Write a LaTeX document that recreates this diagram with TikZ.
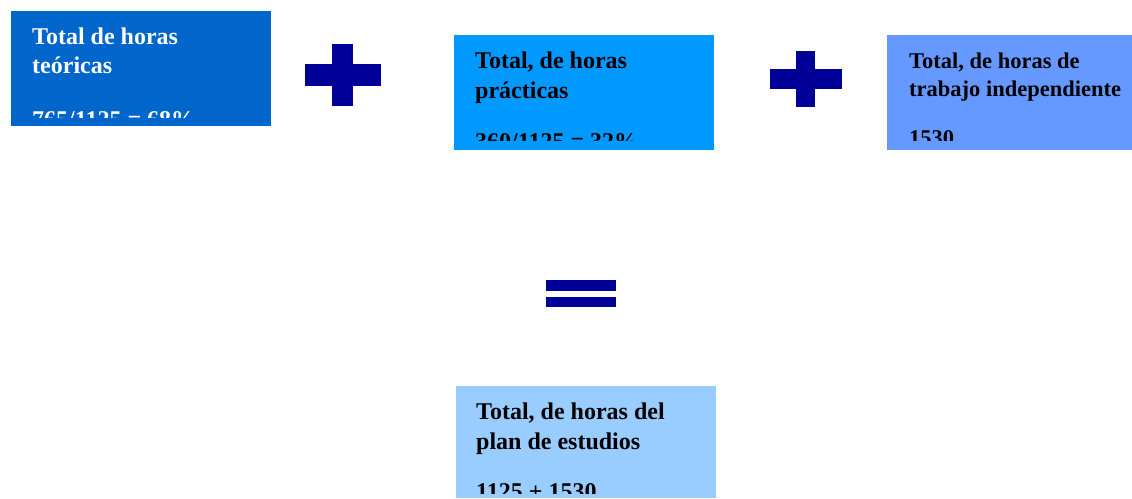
\documentclass[tikz,border=0pt]{standalone}
\usepackage{fontspec}
\setmainfont{Liberation Serif}
\definecolor{cA}{HTML}{0066CC}
\definecolor{cB}{HTML}{0099FF}
\definecolor{cC}{HTML}{6699FF}
\definecolor{cD}{HTML}{99CCFF}
\definecolor{symc}{HTML}{000099}
\begin{document}
\begin{tikzpicture}[x=1pt,y=-1pt,
  box/.style={draw=none, inner sep=0pt, outer sep=0pt, anchor=north west},
  txt/.style={anchor=base west, inner sep=0pt, font=\fontsize{24}{30}\selectfont\bfseries},
  txts/.style={anchor=base west, inner sep=0pt, font=\fontsize{22.5}{28}\selectfont\bfseries},
  symb/.style={fill=symc}]
\useasboundingbox (0,0) rectangle (1132,498);
% box 1
\node[box, fill=cA, minimum width=260pt, minimum height=115pt] (b1) at (11,11) {};
\begin{scope}
\clip (11,11) rectangle (271,117);
\node[txt, text=white] (b1l1) at (32,44) {Total de horas};
\node[txt, text=white] (b1l2) at (32,73) {teóricas};
\node[txt, text=white] (b1l3) at (32,127) {765/1125 = 68\%};
\end{scope}
% plus 1
\fill[symb] (332,44) rectangle (353,106);
\fill[symb] (305,64) rectangle (381,86);
% box 2
\node[box, fill=cB, minimum width=260pt, minimum height=115pt] (b2) at (454,35) {};
\begin{scope}
\clip (454,35) rectangle (714,140);
\node[txt] (b2l1) at (475,68) {Total, de horas};
\node[txt] (b2l2) at (475,98) {prácticas};
\node[txt] (b2l3) at (475,149) {360/1125 = 32\%};
\end{scope}
% plus 2
\fill[symb] (796,51) rectangle (815,107);
\fill[symb] (770,69) rectangle (842,89);
% box 3
\node[box, fill=cC, minimum width=245pt, minimum height=115pt] (b3) at (887,35) {};
\begin{scope}
\clip (887,35) rectangle (1132,140);
\node[txts] (b3l1) at (909,68) {Total, de horas de};
\node[txts] (b3l2) at (909,96) {trabajo independiente};
\node[txts] (b3l3) at (909,145) {1530};
\end{scope}
% equals
\fill[symb] (546,280) rectangle (616,291);
\fill[symb] (546,297) rectangle (616,307);
% box 4
\node[box, fill=cD, minimum width=260pt, minimum height=112pt] (b4) at (456,386) {};
\begin{scope}
\clip (456,386) rectangle (716,493);
\node[txt] (b4l1) at (476,419) {Total, de horas del};
\node[txt] (b4l2) at (476,449) {plan de estudios};
\node[txt] (b4l3) at (476,499) {1125 + 1530};
\end{scope}
\end{tikzpicture}
\end{document}
